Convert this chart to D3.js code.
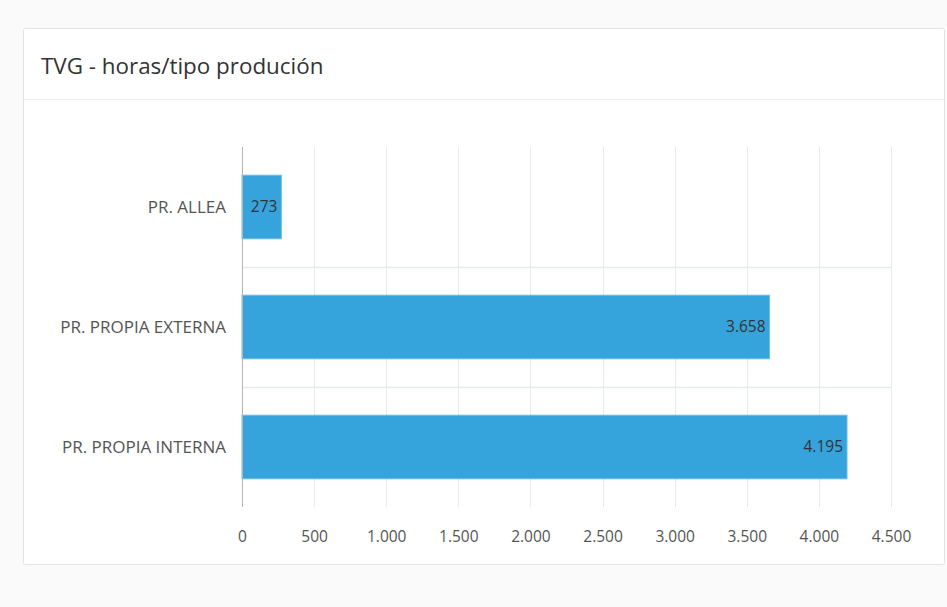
<!DOCTYPE html>
<html><head><meta charset="utf-8">
<script src="https://cdnjs.cloudflare.com/ajax/libs/d3/7.8.5/d3.min.js"></script>
<style>
html,body{margin:0;padding:0;background:#fafafa;}
svg{display:block;}
</style></head>
<body>
<svg id="chart" width="947" height="607"></svg>
<script>
const categories = ["PR. ALLEA", "PR. PROPIA EXTERNA", "PR. PROPIA INTERNA"];
const values = [273, 3658, 4195];
const tickValues = [0, 500, 1000, 1500, 2000, 2500, 3000, 3500, 4000, 4500];
const title = "TVG - horas/tipo produción";

(function () {
const svg = d3.select("#chart");
const font = "'Open Sans', 'Noto Sans', sans-serif";

// card
svg.append("rect").attr("x", 23.5).attr("y", 28.5).attr("width", 921).attr("height", 536)
  .attr("fill", "#fff").attr("stroke", "#e3e3e3").attr("rx", 2);
svg.append("line").attr("x1", 24).attr("x2", 944).attr("y1", 99.5).attr("y2", 99.5)
  .attr("stroke", "#ececec");
svg.append("text").attr("x", 41).attr("y", 74).text(title)
  .attr("font-family", font).attr("font-size", 22.4).attr("fill", "#333");

const pLeft = 242, pRight = 891, pTop = 147, pBottom = 507;
const x = d3.scaleLinear().domain([0, 4500]).range([pLeft, pRight]);
const y = d3.scaleBand().domain(categories).range([pTop, pBottom]).paddingInner(0.47).paddingOuter(0.235);
const yb = d3.scaleBand().domain(categories).range([pTop, pBottom]);

const g = svg.append("g");
// vertical grid
g.selectAll(".vg").data(tickValues.slice(1)).join("line")
  .attr("x1", d => Math.round(x(d)) + 0.5).attr("x2", d => Math.round(x(d)) + 0.5)
  .attr("y1", pTop).attr("y2", pBottom).attr("stroke", "#e6e9ef").attr("stroke-width", 1);
// horizontal band separators
g.selectAll(".hg").data(categories.slice(1)).join("line")
  .attr("x1", pLeft).attr("x2", pRight)
  .attr("y1", d => Math.round(yb(d)) + 0.5).attr("y2", d => Math.round(yb(d)) + 0.5)
  .attr("stroke", "#e6e9ef").attr("stroke-width", 1.5);

// bars
g.selectAll(".bar").data(values).join("rect")
  .attr("x", x(0)).attr("y", (d, i) => y(categories[i]))
  .attr("width", d => x(d) - x(0)).attr("height", y.bandwidth())
  .attr("fill", "#36a4dc").attr("stroke", "#6cbde6").attr("stroke-width", 1);

// value labels
g.selectAll(".vl").data(values).join("text")
  .attr("x", d => x(d) - 4).attr("y", (d, i) => y(categories[i]) + y.bandwidth() / 2)
  .attr("dy", "0.35em").attr("text-anchor", "end")
  .attr("font-family", font).attr("font-size", 15.5).attr("fill", "#333")
  .text(d => d3.format(",")(d).replace(/,/g, "."));

// y axis line
g.append("line").attr("x1", pLeft + 0.5).attr("x2", pLeft + 0.5).attr("y1", pTop).attr("y2", pBottom)
  .attr("stroke", "#b5b5b5").attr("stroke-width", 1);

// category labels
g.selectAll(".cl").data(categories).join("text")
  .attr("x", 226).attr("y", d => yb(d) + yb.bandwidth() / 2)
  .attr("dy", "0.35em").attr("text-anchor", "end")
  .attr("font-family", font).attr("font-size", 17).attr("fill", "#555")
  .text(d => d);

// x tick labels
const xAxis = d3.axisBottom(x).tickValues(tickValues).tickSize(0).tickPadding(0)
  .tickFormat(d => d3.format(",")(d).replace(/,/g, "."));
const ax = svg.append("g").attr("transform", `translate(0,${pBottom + 24})`).call(xAxis);
ax.select(".domain").remove();
ax.selectAll("text").attr("font-family", font).attr("font-size", 15.5).attr("fill", "#555");
})();
</script>
</body></html>
